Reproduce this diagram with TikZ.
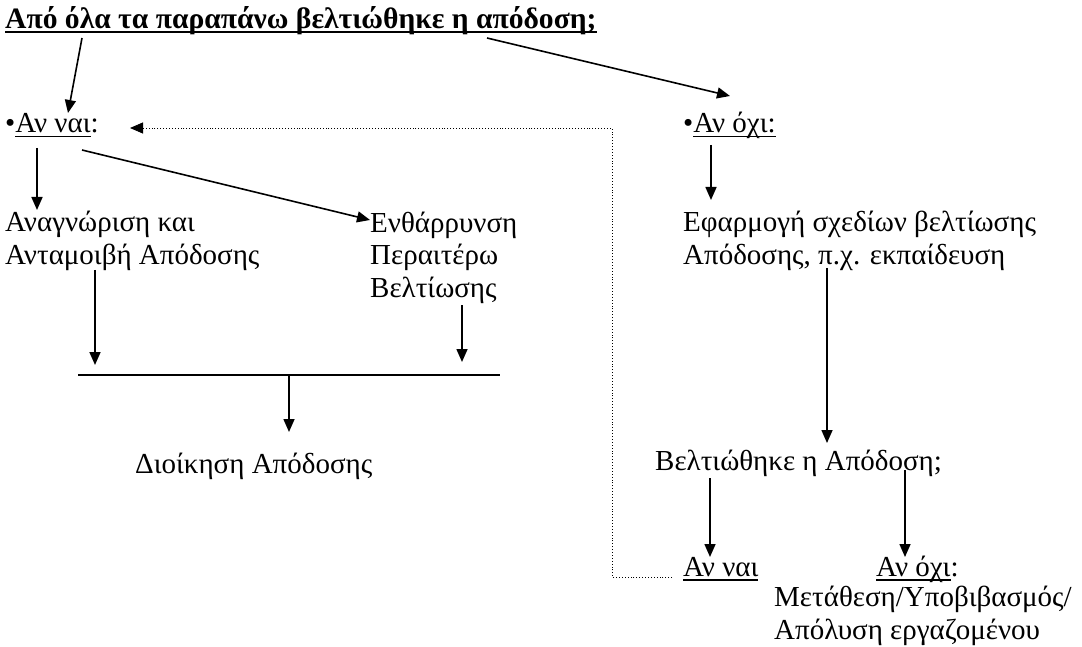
\documentclass[tikz,border=0pt]{standalone}
\usepackage{fontspec}
\setmainfont{Liberation Serif}
\usetikzlibrary{arrows.meta, calc}
% underline drawn a little lower and thicker than \underline
\newcommand{\undl}[2][1.6pt]{\setbox0\hbox{#2}\rlap{\rule[-4.5pt]{\wd0}{#1}}\box0}

\begin{document}
\begin{tikzpicture}[x=1pt, y=-1pt,
  txt/.style={anchor=base west, inner sep=0pt, align=left,
              font=\fontsize{29}{33}\selectfont},
  arr/.style={line width=1.6pt, -{Triangle[length=13pt,width=11pt]}},
  dots/.style={line width=0.9pt, dotted}]
  \useasboundingbox (0,0) rectangle (1082,647);
  % question and the two answers
  \node[txt, font=\fontsize{29.6}{33}\selectfont\bfseries] (title) at (5,29)
    {\undl[2.4pt]{Από όλα τα παραπάνω βελτιώθηκε η απόδοση;}};
  \node[txt] (yes) at (5,133) {•\undl{Αν ναι}:};
  \node[txt] (no)  at (683,133) {•\undl{Αν όχι:}};
  % left branch (base = last line)
  \node[txt] (recog)  at (5,265)   {Αναγνώριση και\\Ανταμοιβή Απόδοσης};
  \node[txt] (encour) at (370,298) {Ενθάρρυνση\\Περαιτέρω\\Βελτίωσης};
  \coordinate (barL) at (78,375);
  \coordinate (barR) at (500,375);
  \node[txt] (perf) at (135,473) {Διοίκηση Απόδοσης};
  % right branch
  \node[txt] (plan) at (683,265) {Εφαρμογή σχεδίων βελτίωσης\\Απόδοσης, π.χ. εκπαίδευση};
  \node[txt] (improved) at (655,470) {Βελτιώθηκε η Απόδοση;};
  \node[txt] (yes2) at (683,576) {\undl{Αν ναι}};
  \node[txt] (no2)  at (876,576) {\undl{Αν όχι}:};
  \node[txt] (fire) at (774,639) {Μετάθεση/Υποβιβασμός/\\Απόλυση εργαζομένου};

  \draw[arr] ($(title.base west)+(77,9)$) -- ($(yes.base west)+(63,-20)$);
  \draw[arr] ($(title.base west)+(482,9)$) -- ($(no.base west)+(47,-37)$);
  \draw[arr] ($(yes.base west)+(32,15)$) -- ($(recog.base west)+(32,-55)$);
  \draw[arr] ($(yes.base west)+(77,17)$) -- ($(encour.base west)+(0,-78)$);
  \draw[arr] ($(no.base west)+(28,12)$) -- ($(plan.base west)+(28,-65)$);
  % collecting bar
  \draw[line width=1.6pt] (barL) -- (barR);
  \draw[arr] ($(recog.base west)+(90,5)$) -- ($(barL)+(17,-10)$);
  \draw[arr] ($(encour.base west)+(92,7)$) -- ($(barR)+(-38,-13)$);
  \draw[arr] ($(barL)!0.5!(barR)$) -- ($(perf.base west)+(154,-41)$);
  % second check
  \draw[arr] ($(plan.base west)+(144,3)$) -- ($(improved.base west)+(172,-27)$);
  \draw[arr] ($(improved.base west)+(55,8)$) -- ($(yes2.base west)+(27,-19)$);
  \draw[arr] ($(improved.base west)+(250,0)$) -- ($(no2.base west)+(29,-19)$);
  % back to the yes case
  \draw[dots, -{Triangle[length=13pt,width=11pt]}]
    ($(yes2.base west)+(-11,1)$) -| ($(no.base west)+(-71,-5)$)
    -- ($(yes.base west)+(125,-5)$);
\end{tikzpicture}
\end{document}
